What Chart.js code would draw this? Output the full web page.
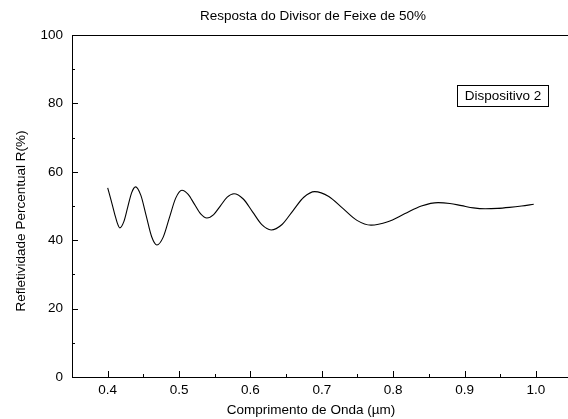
<!DOCTYPE html>
<html lang="pt">
<head>
<meta charset="UTF-8">
<title>Resposta do Divisor de Feixe de 50%</title>
<style>
  html, body { margin: 0; padding: 0; background: #fff; overflow: hidden; }
  #chart { display: block; }
</style>
<script src="https://cdn.jsdelivr.net/npm/chart.js"></script>
</head>
<body>
<canvas id="chart" width="568" height="419"></canvas>
<script>
// valores
const wavelength = [0.400, 0.405, 0.410, 0.4135, 0.417, 0.4225, 0.428, 0.4335, 0.439, 0.4465, 0.454,
                    0.4615, 0.469, 0.4778, 0.4865, 0.4953, 0.504, 0.5128, 0.5215, 0.5303, 0.539,
                    0.5485, 0.558, 0.5675, 0.577, 0.590, 0.603, 0.616, 0.629, 0.6443, 0.6595,
                    0.6748, 0.690, 0.7098, 0.7295, 0.7493, 0.769, 0.7925, 0.816, 0.8395, 0.863,
                    0.8795, 0.896, 0.9125, 0.929, 0.946, 0.963, 0.980, 0.997];
const reflectance = [55.3, 51.5, 47.5, 45.0, 43.6, 45.35, 49.6, 53.85, 55.6, 53.1, 47.1,
                     41.1, 38.6, 40.9, 46.6, 52.3, 54.6, 53.4, 50.55, 47.7, 46.5,
                     47.5, 50.05, 52.6, 53.6, 52.05, 48.3, 44.55, 43.0, 44.6, 48.6,
                     52.55, 54.2, 52.8, 49.3, 45.8, 44.4, 45.4, 47.7, 50.0, 51.0,
                     50.75, 50.1, 49.45, 49.2, 49.3, 49.6, 50.0, 50.5];

const xMajorTicks = [0.4, 0.5, 0.6, 0.7, 0.8, 0.9, 1.0];
const xMinorTicks = [0.45, 0.55, 0.65, 0.75, 0.85, 0.95];
const yMajorTicks = [0, 20, 40, 60, 80, 100];
const yMinorTicks = [10, 30, 50, 70, 90];

const chartTitle = 'Resposta do Divisor de Feixe de 50%';
const xTitle = 'Comprimento de Onda (\u00b5m)';
const yTitle = 'Refletividade Percentual R(%)';
const legendLabel = 'Dispositivo 2';

const FONT = '13.5px "Liberation Sans", Arial, sans-serif';

// moldura, ticks internos, títulos e caixa de legenda
const framePlugin = {
  id: 'frame',
  afterDraw(chart) {
    const ctx = chart.ctx;
    const a = chart.chartArea;
    const xs = chart.scales.x, ys = chart.scales.y;
    ctx.save();
    ctx.strokeStyle = '#000';
    ctx.lineWidth = 1;
    ctx.beginPath();
    ctx.moveTo(a.left, a.top + 0.5);
    ctx.lineTo(a.right, a.top + 0.5);
    xMajorTicks.forEach(v => {
      const px = Math.round(xs.getPixelForValue(v)) + 0.5;
      ctx.moveTo(px, a.bottom); ctx.lineTo(px, a.bottom - 6);
    });
    xMinorTicks.forEach(v => {
      const px = Math.round(xs.getPixelForValue(v)) + 0.5;
      ctx.moveTo(px, a.bottom); ctx.lineTo(px, a.bottom - 3);
    });
    yMajorTicks.forEach(v => {
      const py = Math.round(ys.getPixelForValue(v)) + 0.5;
      ctx.moveTo(a.left, py); ctx.lineTo(a.left + 6, py);
    });
    yMinorTicks.forEach(v => {
      const py = Math.round(ys.getPixelForValue(v)) + 0.5;
      ctx.moveTo(a.left, py); ctx.lineTo(a.left + 3, py);
    });
    ctx.stroke();

    ctx.fillStyle = '#000';
    ctx.font = FONT;
    ctx.textAlign = 'center';
    ctx.textBaseline = 'middle';
    ctx.fillText(chartTitle, 313, 16);
    ctx.fillText(xTitle, 311, 410);
    ctx.save();
    ctx.translate(21, 221);
    ctx.rotate(-Math.PI / 2);
    ctx.fillText(yTitle, 0, 0);
    ctx.restore();

    ctx.strokeRect(457.5, 85.5, 91, 21);
    ctx.fillText(legendLabel, 503, 96.5);
    ctx.restore();
  }
};

new Chart(document.getElementById('chart'), {
  type: 'line',
  data: {
    datasets: [{
      label: legendLabel,
      data: wavelength.map((w, i) => ({ x: w, y: reflectance[i] })),
      borderColor: '#000',
      borderWidth: 1.1,
      pointRadius: 0,
      cubicInterpolationMode: 'monotone',
      fill: false
    }]
  },
  options: {
    responsive: false,
    devicePixelRatio: 1,
    animation: false,
    layout: { padding: { top: 35, right: 0, left: 0, bottom: 0 } },
    plugins: {
      legend: { display: false },
      title: { display: false },
      tooltip: { enabled: false }
    },
    scales: {
      x: {
        type: 'linear',
        min: 0.35,
        max: 1.045,
        afterBuildTicks: s => { s.ticks = xMajorTicks.map(v => ({ value: v })); },
        afterFit: s => { s.height = 42; },
        grid: { display: false, drawTicks: false },
        border: { display: true, color: '#000', width: 1 },
        ticks: {
          color: '#000',
          font: { family: '"Liberation Sans", Arial, sans-serif', size: 13.5 },
          padding: 5,
          maxRotation: 0,
          callback: v => v.toFixed(1)
        }
      },
      y: {
        min: 0,
        max: 100,
        afterBuildTicks: s => { s.ticks = yMajorTicks.map(v => ({ value: v })); },
        afterFit: s => { s.width = 72; },
        grid: { display: false, drawTicks: false },
        border: { display: true, color: '#000', width: 1 },
        ticks: {
          color: '#000',
          font: { family: '"Liberation Sans", Arial, sans-serif', size: 13.5 },
          padding: 9
        }
      }
    }
  },
  plugins: [framePlugin]
});
</script>
</body>
</html>
